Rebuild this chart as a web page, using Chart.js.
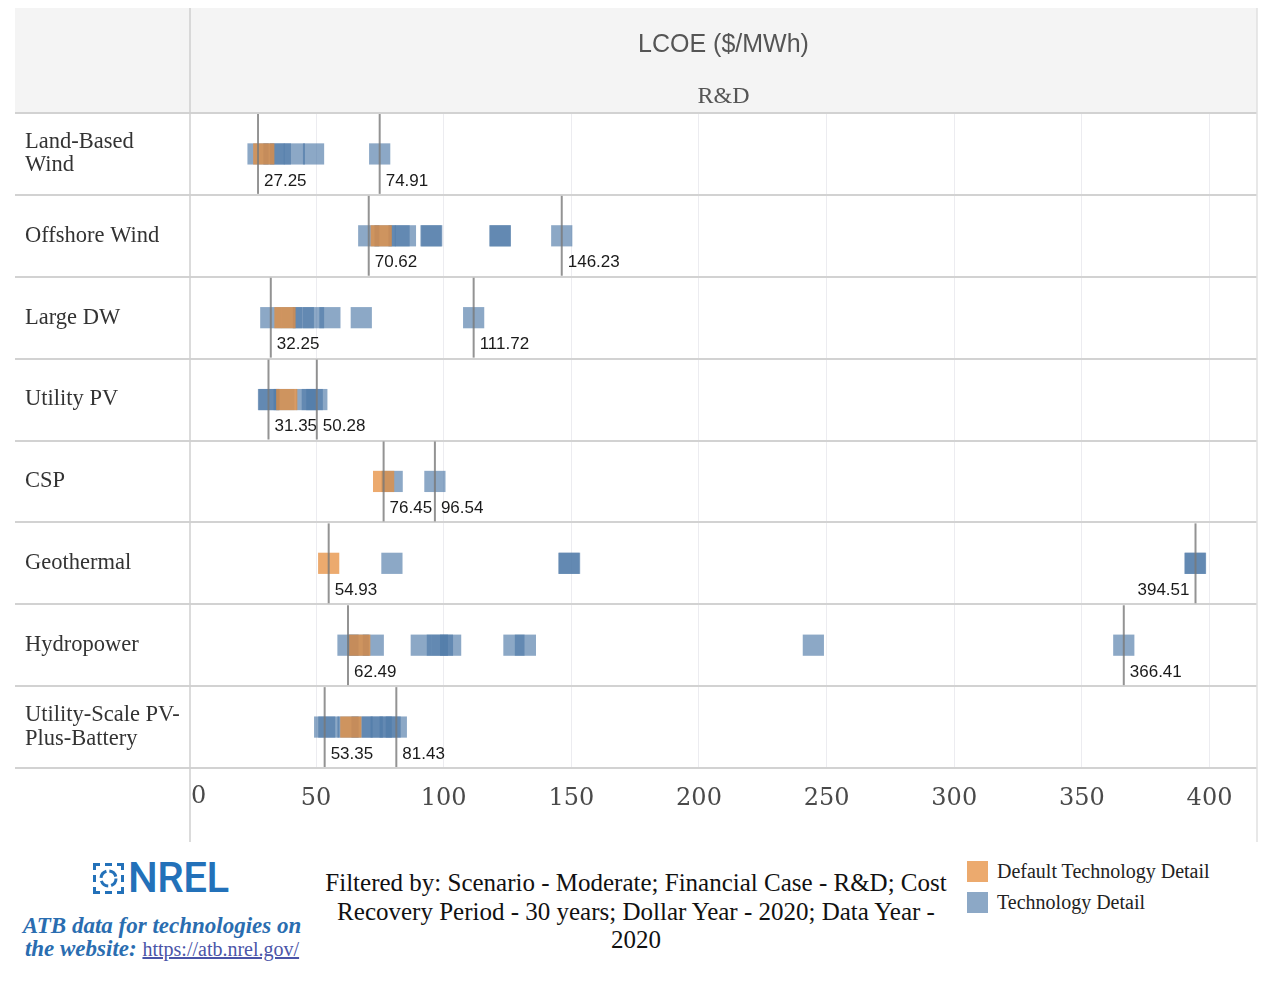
<!DOCTYPE html>
<html><head><meta charset="utf-8">
<script src="https://cdn.jsdelivr.net/npm/chart.js@4.4.1/dist/chart.umd.min.js"></script>
<style>
html,body{margin:0;padding:0;background:#fff}
body{width:1280px;height:982px;overflow:hidden;position:relative;font-family:'Liberation Serif',serif}
#c{position:absolute;left:0;top:0}
.logo{position:absolute;left:93px;top:861px;display:flex;align-items:center;color:#2371b9}
.logo span{font-family:Roboto,'Liberation Sans',sans-serif;font-weight:500;font-size:42px;line-height:34px;margin-left:4px;letter-spacing:-0.5px}
.atb{position:absolute;left:0;top:914px;width:324px;text-align:center;font-family:'Liberation Serif',serif;font-weight:bold;font-style:italic;font-size:23px;line-height:23px;color:#2a6db0}
.atb a{font-weight:normal;font-style:normal;color:#4b55a8;text-decoration:underline;font-size:20px}
.filter{position:absolute;left:306px;top:869px;width:660px;text-align:center;font-size:25px;line-height:28.5px;color:#111}
.legend{position:absolute;left:967px;top:856px;font-size:20px;color:#222}
.legend div{display:flex;align-items:center;height:31px}
.legend i{display:inline-block;width:21px;height:21px;margin-right:9px}
</style></head>
<body>
<canvas id="c" width="1280" height="845"></canvas>
<div class="logo">
<svg width="31" height="31" viewBox="0 0 31 31"><g fill="#2371b9">
<rect x="0" y="0" width="7" height="3"/><rect x="0" y="0" width="3" height="7"/>
<rect x="24" y="0" width="7" height="3"/><rect x="28" y="0" width="3" height="7"/>
<rect x="0" y="28" width="7" height="3"/><rect x="0" y="24" width="3" height="7"/>
<rect x="24" y="28" width="7" height="3"/><rect x="28" y="24" width="3" height="7"/>
<rect x="12" y="0" width="7" height="3"/><rect x="12" y="28" width="7" height="3"/>
<rect x="0" y="12" width="3" height="7"/><rect x="28" y="12" width="3" height="7"/>
</g><circle cx="15.5" cy="15.5" r="7.5" fill="none" stroke="#2371b9" stroke-width="3" stroke-dasharray="9 3"/></svg>
<span>NREL</span></div>
<div class="atb">ATB data for technologies on<br>the website: <a href="https://atb.nrel.gov/">https://atb.nrel.gov/</a></div>
<div class="filter">Filtered by: Scenario - Moderate; Financial Case - R&amp;D; Cost<br>Recovery Period - 30 years; Dollar Year - 2020; Data Year -<br>2020</div>
<div class="legend">
<div><i style="background:rgba(230,142,62,0.75)"></i>Default Technology Detail</div>
<div><i style="background:rgba(78,121,167,0.65)"></i>Technology Detail</div>
</div>
<script>
// ---- data ----
const categories = [['Land-Based','Wind'], 'Offshore Wind', 'Large DW', 'Utility PV', 'CSP', 'Geothermal', 'Hydropower', ['Utility-Scale PV-','Plus-Battery']];
const defaultTech = [29.5, 75.5, 37.8, 38.5, 76.45, 54.93, 67.1, 63.6];
const landBasedWind = [27.25, 33.5, 36, 41.5, 49, 74.91];
const offshoreWind = [70.62, 77, 82.5, 85, 95, 95.3, 122, 122.2, 146.23];
const largeDW = [32.25, 40.5, 45, 49, 55.4, 67.7, 111.72];
const utilityPV = [31.35, 31.6, 37.5, 46, 48.5, 50.28];
const csp = [79.8, 96.54];
const geothermal = [79.7, 149, 149.3, 394.3, 394.51];
const hydropower = [62.49, 66.5, 72.4, 91.2, 97.5, 99.5, 102.7, 127.5, 132, 244.8, 366.41];
const pvPlusBattery = [53.35, 55, 62.5, 68, 72, 75.5, 79, 81.43];
const techDetail = [landBasedWind, offshoreWind, largeDW, utilityPV, csp, geothermal, hydropower, pvPlusBattery];
const xTickValues = [0, 50, 100, 150, 200, 250, 300, 350, 400];
const headerTitle = 'LCOE ($/MWh)';
const headerSub = 'R&D';

const ORANGE = 'rgba(230,142,62,0.75)';
const BLUE = 'rgba(78,121,167,0.65)';

const orangeData = defaultTech.map((v, i) => ({x: v, y: i}));
const blueData = [];
techDetail.forEach((arr, i) => arr.forEach(v => blueData.push({x: v, y: i})));

const panelPlugin = {
  id: 'panel',
  beforeDraw(chart) {
    const {ctx, chartArea: ca} = chart;
    ctx.save();
    ctx.fillStyle = '#f4f4f4';
    ctx.fillRect(15, 8, ca.right - 15, ca.top - 8);
    ctx.fillStyle = '#555';
    ctx.textAlign = 'center';
    ctx.textBaseline = 'middle';
    const cx = (ca.left + ca.right) / 2;
    ctx.font = '25px "Liberation Sans", Arial, sans-serif';
    ctx.fillText(headerTitle, cx, 45);
    ctx.font = '24px "Liberation Serif", serif';
    ctx.fillText(headerSub, cx, 97);
    ctx.restore();
  },
  beforeDatasetsDraw(chart) {
    const {ctx, chartArea: ca, scales: {x, y}} = chart;
    ctx.save();
    ctx.strokeStyle = '#d2d2d2';
    ctx.lineWidth = 2;
    for (let i = 0; i <= categories.length; i++) {
      const py = Math.round(y.getPixelForValue(i - 0.5));
      ctx.beginPath(); ctx.moveTo(15, py); ctx.lineTo(ca.right, py); ctx.stroke();
    }
    ctx.strokeStyle = '#cfcfcf';
    ctx.lineWidth = 1.5;
    ctx.beginPath(); ctx.moveTo(ca.left, 8); ctx.lineTo(ca.left, 842); ctx.stroke();
    ctx.strokeStyle = '#e0e0e0';
    ctx.beginPath(); ctx.moveTo(ca.right, 8); ctx.lineTo(ca.right, 842); ctx.stroke();
    // first tick label kept inside the panel
    ctx.fillStyle = '#4a4a4a';
    ctx.font = '24px "DejaVu Serif", serif';
    ctx.textAlign = 'left';
    ctx.textBaseline = 'middle';
    ctx.fillText(String(xTickValues[0]), Math.max(ca.left + 1, x.getPixelForValue(xTickValues[0])), 797);
    ctx.restore();
  },
  afterDatasetsDraw(chart) {
    const {ctx, chartArea: ca, scales: {x, y}} = chart;
    ctx.save();
    ctx.font = '17px "Liberation Sans", Arial, sans-serif';
    ctx.textBaseline = 'middle';
    categories.forEach((c, i) => {
      const vals = techDetail[i].concat([defaultTech[i]]);
      const mn = Math.min(...vals), mx = Math.max(...vals);
      const top = y.getPixelForValue(i - 0.5), bot = y.getPixelForValue(i + 0.5);
      [mn, mx].forEach(v => {
        const px = x.getPixelForValue(v);
        ctx.strokeStyle = 'rgba(120,120,120,0.8)';
        ctx.lineWidth = 2;
        ctx.beginPath(); ctx.moveTo(px, top + 1); ctx.lineTo(px, bot - 1); ctx.stroke();
        const t = v.toFixed(2);
        const w = ctx.measureText(t).width;
        ctx.fillStyle = '#1a1a1a';
        if (px + 6 + w > ca.right - 8) { ctx.textAlign = 'right'; ctx.fillText(t, px - 6, bot - 14); }
        else { ctx.textAlign = 'left'; ctx.fillText(t, px + 6, bot - 14); }
      });
    });
    ctx.restore();
  }
};

new Chart(document.getElementById('c'), {
  type: 'scatter',
  data: {
    datasets: [
      {label: 'Default Technology Detail', data: orangeData, backgroundColor: ORANGE, borderWidth: 0, borderColor: 'rgba(0,0,0,0)', pointStyle: 'rect', pointRadius: 15, pointHoverRadius: 15},
      {label: 'Technology Detail', data: blueData, backgroundColor: BLUE, borderWidth: 0, borderColor: 'rgba(0,0,0,0)', pointStyle: 'rect', pointRadius: 15, pointHoverRadius: 15}
    ]
  },
  options: {
    responsive: false, animation: false, devicePixelRatio: 1, events: [],
    layout: {padding: {top: 113, left: 25, right: 23, bottom: 0}},
    plugins: {legend: {display: false}, tooltip: {enabled: false}},
    scales: {
      x: {
        type: 'linear', min: 0.6, max: 418.6,
        afterBuildTicks(s) { s.ticks = xTickValues.slice(1).map(v => ({value: v})); },
        afterFit(s) { s.height = 77; },
        grid: {color: '#ececf0', drawTicks: false, lineWidth: 1},
        border: {display: false},
        ticks: {padding: 16, autoSkip: false, maxRotation: 0, color: '#4a4a4a', font: {family: 'DejaVu Serif', size: 24}}
      },
      y: {
        type: 'linear', min: -0.5, max: 7.5, reverse: true,
        afterBuildTicks(s) { s.ticks = categories.map((c, i) => ({value: i})); },
        afterFit(s) { s.width = 165; },
        grid: {display: false}, border: {display: false},
        ticks: {crossAlign: 'far', autoSkip: false, color: '#333', font: {family: 'Liberation Serif', size: 22.5, lineHeight: 1.03}, callback: (v) => categories[v]}
      }
    }
  },
  plugins: [panelPlugin]
});
</script>
</body></html>
